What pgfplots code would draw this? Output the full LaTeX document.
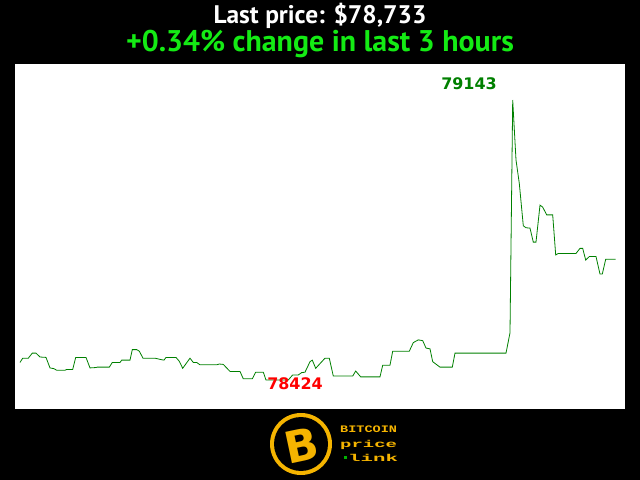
\documentclass[border=0pt]{standalone}
\usepackage{pgfplots}
\pgfplotsset{compat=1.18}
\usepackage{fontspec}
\setmainfont{PT Sans}
\newfontfamily\labfont{DejaVu Sans}
\setmonofont{Liberation Mono}
\definecolor{lineg}{RGB}{0,128,0}
\definecolor{titleg}{RGB}{20,235,20}
\definecolor{minred}{RGB}{255,0,0}
\definecolor{gold}{RGB}{245,180,0}

\pgfplotstableread{
x price
20 78469
22.7 78480
28.3 78480
32.3 78493
36 78493
40 78483
46 78482
50 78455
54 78453
56.7 78449
65 78449
66.7 78451
72.7 78451
75.7 78482
86 78482
90 78455
96 78456
97.3 78457
109.3 78457
112.3 78469
120 78469
121.7 78475
130 78475
132.3 78502
136.7 78502
139.3 78498
143 78480
155 78480
161.7 78476
164 78475
166 78482
176 78482
179.3 78472
182.7 78454
190 78480
193.3 78469
196.7 78469
200 78463
216.7 78463
219.3 78465
223.3 78464
230 78446
240 78446
243.3 78427
252.3 78427
255.7 78444
263.3 78444
266 78424
288.3 78424
292.7 78437
298.3 78437
301.7 78443
305 78444
310 78471
312.3 78475
315.7 78454
320 78466
325 78480
329.3 78480
333.3 78434
352.7 78434
355.7 78447
360.7 78432
380 78432
382.7 78462
390 78462
392.7 78498
409.3 78498
413.3 78520
418.3 78527
422.7 78525
426 78506
430 78504
432.7 78471
440 78457
452.3 78457
455 78493
506 78493
510 78545
512.7 79143
516 78989
519.3 78929
523.3 78820
526 78815
530 78814
533.3 78778
536 78778
540 78873
542.7 78868
546.7 78848
552.7 78848
555.7 78745
558.3 78749
576 78749
580 78762
582.7 78762
585.7 78732
589.3 78741
596 78741
600 78696
602.3 78696
605.7 78734
615.7 78734
}\pricedata

\begin{document}
\begin{tikzpicture}
% black page
\fill[black] (0,0) rectangle (640bp,480bp);
\useasboundingbox (0,0) rectangle (640bp,480bp);

% titles
\node[text=white, font=\fontsize{25.5}{27}\selectfont\bfseries] at (320bp,464bp) {Last price: \$78,733};
\node[text=titleg, font=\fontsize{30}{32}\selectfont\bfseries] at (320bp,436bp) {+0.34\% change in last 3 hours};

\begin{axis}[
  at={(15bp,71bp)}, anchor=south west,
  scale only axis, width=610bp, height=345bp,
  xmin=15, xmax=625,
  ymin=78349.5, ymax=79235.5,
  axis background/.style={fill=white},
  axis line style={draw=none},
  xtick=\empty, ytick=\empty,
  clip=false,
]
\addplot[lineg, line width=0.8bp, mark=none] table[x=x, y=price] {\pricedata};
\node[text=lineg, font=\labfont\fontsize{16}{18}\selectfont\bfseries] at (axis cs:469,79184) {79143};
\node[text=minred, font=\labfont\fontsize{16}{18}\selectfont\bfseries] at (axis cs:295,78414) {78424};
\end{axis}

% logo
\fill[gold] (301bp,36bp) circle (31bp);
\fill[black] (301bp,36bp) circle (27bp);
\node[text=gold, font=\labfont\fontsize{44}{44}\selectfont\bfseries, rotate=12] at (302bp,35bp) {B};
\fill[green!70!black] (344bp,20.5bp) rectangle (347bp,23.5bp);
\node[anchor=base west, text=gold, font=\ttfamily\bfseries\fontsize{10}{14.5}\selectfont,
      inner sep=0pt, align=left] at (340bp,18.5bp)
  {\scalebox{1.36}[1]{BITCOIN}\\\scalebox{1.9}[1]{price}\\\hspace*{8bp}\scalebox{2.08}[1]{link}};
\end{tikzpicture}
\end{document}
